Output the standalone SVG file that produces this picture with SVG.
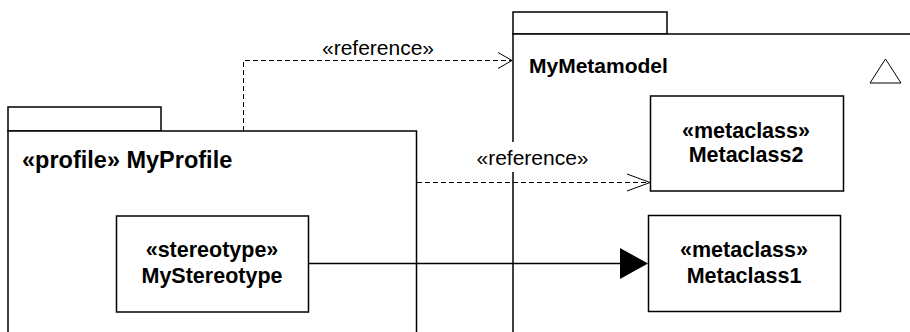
<svg xmlns="http://www.w3.org/2000/svg" width="910" height="332" viewBox="0 0 910 332">
<style>
.box{fill:#fff;stroke:#000;stroke-width:1.5}
.b{font-family:"Liberation Sans",Arial,sans-serif;font-weight:bold;font-size:21.5px;fill:#000}
.r{font-family:"Liberation Sans",Arial,sans-serif;font-size:21px;fill:#000}
.dash{fill:none;stroke:#000;stroke-width:1;stroke-dasharray:5,3}
.open{fill:none;stroke:#000;stroke-width:1}
</style>
<rect width="910" height="332" fill="#fff"/>
<g id="MyProfile">
<rect class="box" x="8" y="107" width="153" height="24"/>
<rect class="box" x="8" y="131" width="408.5" height="215"/>
<text class="b" x="22" y="168" style="font-size:23.5px">«profile» MyProfile</text>
</g>
<g id="MyMetamodel">
<rect class="box" x="513" y="12" width="154" height="22"/>
<rect class="box" x="513" y="34" width="410" height="312"/>
<text class="b" x="529" y="73" style="font-size:21px">MyMetamodel</text>
<polygon points="870,83 885.5,59 901,83" fill="#fff" stroke="#000" stroke-width="1"/>
</g>
<g id="MyStereotype">
<rect class="box" x="116.5" y="216" width="192" height="96"/>
<text class="b" text-anchor="middle" x="212" y="257">«stereotype»</text>
<text class="b" text-anchor="middle" x="212" y="283">MyStereotype</text>
</g>
<g id="Metaclass2">
<rect class="box" x="650.5" y="96" width="193" height="95"/>
<text class="b" text-anchor="middle" x="746" y="138">«metaclass»</text>
<text class="b" text-anchor="middle" x="746" y="162">Metaclass2</text>
</g>
<g id="Metaclass1">
<rect class="box" x="648.5" y="215.5" width="192" height="96"/>
<text class="b" text-anchor="middle" x="744" y="257">«metaclass»</text>
<text class="b" text-anchor="middle" x="744" y="283">Metaclass1</text>
</g>
<g id="connectors">
<path class="dash" d="M243.5,131 V60.5 H512"/>
<path class="open" d="M498,52.5 L512,60.5 L498,68.5"/>
<text class="r" text-anchor="middle" x="378" y="55">«reference»</text>
<path class="dash" d="M417,182.5 H650"/>
<path class="open" d="M627,174 L650,182.5 L627,191"/>
<rect x="475" y="142" width="116" height="30" fill="#fff"/>
<text class="r" text-anchor="middle" x="532.5" y="165">«reference»</text>
<line x1="308.5" y1="263.5" x2="622" y2="263.5" stroke="#000" stroke-width="1.5"/>
<polygon points="620,248 648,263.5 620,279" fill="#000"/>
</g>
</svg>
